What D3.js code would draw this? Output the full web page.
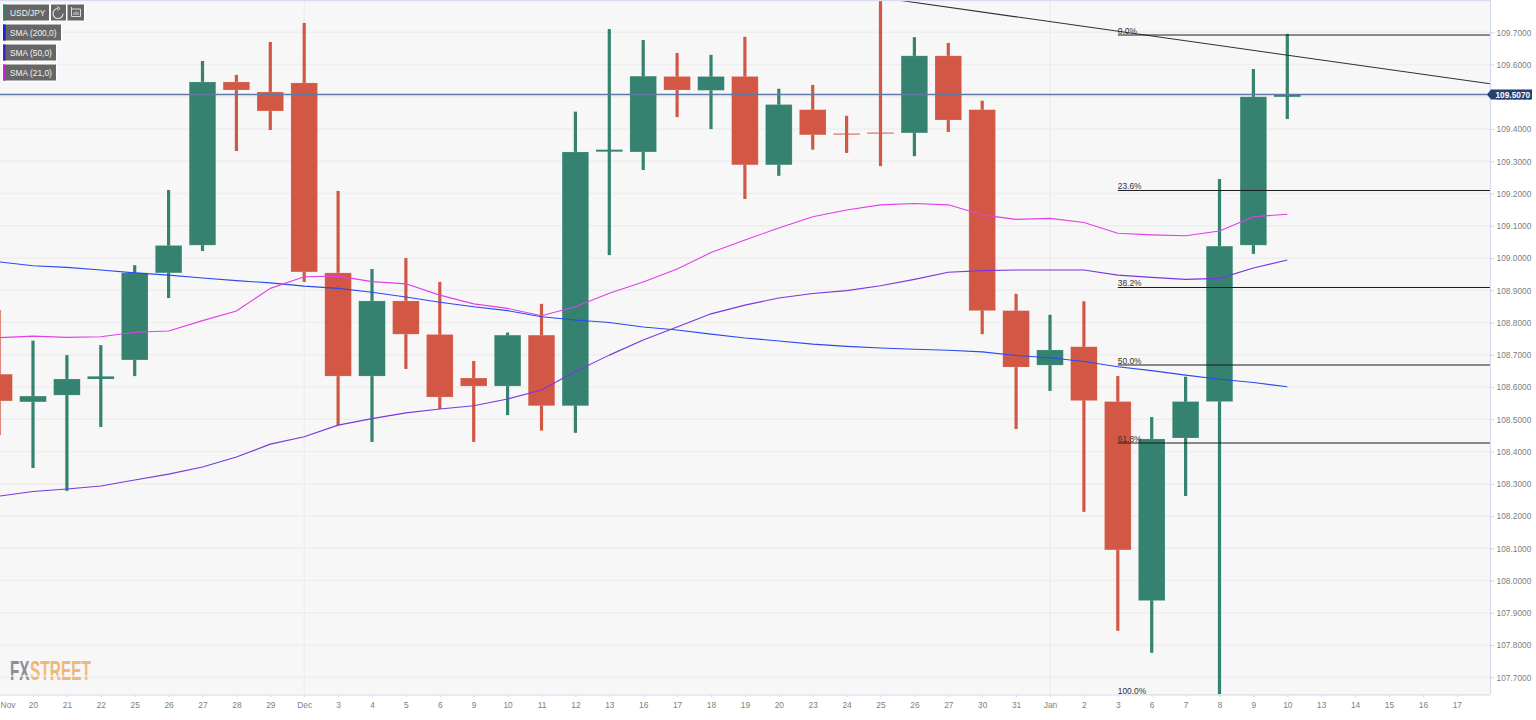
<!DOCTYPE html>
<html><head><meta charset="utf-8">
<script src="https://cdn.jsdelivr.net/npm/d3@7"></script>
<style>html,body{margin:0;padding:0;background:#fff;overflow:hidden}svg{display:block}text{font-family:"Liberation Sans",Arial,sans-serif}</style>
</head><body><svg id="c" width="1536" height="720"></svg>
<script>
const dates=["19","20","21","22","25","26","27","28","29","Dec","3","4","5","6","9","10","11","12","13","16","17","18","19","20","23","24","25","26","27","30","31","Jan","2","3","6","7","8","9","10"];
const open=[108.640,108.554,108.575,108.625,108.684,108.954,109.040,109.546,109.515,109.543,108.954,108.634,108.867,108.763,108.628,108.603,108.761,108.542,109.330,109.329,109.563,109.520,109.563,109.289,109.460,109.386,109.389,109.388,109.627,109.460,108.837,108.668,108.725,108.555,107.938,108.442,108.555,109.040,109.500];
const close=[108.557,108.572,108.625,108.633,108.954,109.039,109.546,109.521,109.456,108.957,108.634,108.867,108.764,108.569,108.603,108.761,108.542,109.329,109.336,109.564,109.521,109.563,109.289,109.476,109.382,109.383,109.386,109.627,109.428,108.837,108.662,108.715,108.558,108.095,108.439,108.555,109.037,109.500,109.507];
const high=[108.839,108.744,108.699,108.730,108.978,109.211,109.611,109.568,109.670,109.729,109.208,108.966,109.000,108.926,108.681,108.769,108.858,109.454,109.710,109.676,109.636,109.630,109.686,109.525,109.537,109.441,109.797,109.685,109.667,109.488,108.889,108.824,108.866,108.634,108.507,108.632,109.245,109.586,109.695];
const low=[108.451,108.349,108.278,108.476,108.634,108.876,109.022,109.332,109.397,108.926,108.482,108.430,108.656,108.532,108.430,108.513,108.465,108.458,109.009,109.273,109.437,109.400,109.183,109.255,109.336,109.326,109.285,109.316,109.391,108.764,108.470,108.588,108.213,107.844,107.776,108.262,107.648,109.013,109.431];
const sma200=[108.988,108.976,108.971,108.963,108.954,108.947,108.938,108.930,108.923,108.913,108.906,108.894,108.879,108.863,108.849,108.837,108.818,108.808,108.800,108.786,108.777,108.764,108.752,108.743,108.733,108.726,108.721,108.717,108.714,108.709,108.698,108.691,108.679,108.663,108.651,108.637,108.624,108.614,108.601];
const sma50=[108.262,108.276,108.284,108.293,108.312,108.330,108.352,108.383,108.423,108.446,108.482,108.502,108.520,108.532,108.542,108.563,108.591,108.648,108.699,108.746,108.786,108.827,108.854,108.876,108.890,108.899,108.914,108.934,108.956,108.961,108.963,108.963,108.963,108.947,108.940,108.934,108.937,108.969,108.994];
const sma21=[108.753,108.758,108.754,108.756,108.770,108.774,108.806,108.836,108.906,108.942,108.944,108.927,108.920,108.885,108.858,108.844,108.821,108.849,108.891,108.926,108.966,109.017,109.056,109.093,109.128,109.149,109.165,109.169,109.165,109.134,109.120,109.123,109.110,109.077,109.072,109.069,109.084,109.128,109.136];
const futureLabels=["13","14","15","16","17"];
const priceTicks=[109.7,109.6,109.5,109.4,109.3,109.2,109.1,109.0,108.9,108.8,108.7,108.6,108.5,108.4,108.3,108.2,108.1,108.0,107.9,107.8,107.7];
const fibLabels=["0.0%","23.6%","38.2%","50.0%","61.8%","100.0%"];
const fibPrices=[109.6916,109.2095,108.9087,108.6684,108.4265,107.6440];
const fibStartIndex=32;
const trendIndex=[25.5,43];
const trendPrice=[109.800,109.540];
const lastPrice=109.5070;
const legendLabels=["SMA (200,0)","SMA (50,0)","SMA (21,0)"];
const symbol="USD/JPY";
const smaColors=["#2b49f0","#7a37e0","#e23fe8"];

const W=1490,B=694.5;
const svg=d3.select("#c");
const x=d3.scaleLinear().domain([-1,43]).range([-0.9,1490.7]);
const y=d3.scaleLinear().domain([109.7,107.7]).range([32.3,677.3]);
const UP="#34826f",DN="#d25845",TICK="#808080",FS=8.4;

svg.append("rect").attr("width",1536).attr("height",720).attr("fill","#fff");
svg.append("rect").attr("width",W).attr("height",B).attr("fill","#f7f7f7");
svg.append("defs").append("clipPath").attr("id","p").append("rect").attr("width",W).attr("height",B);

const plot=svg.append("g").attr("clip-path","url(#p)");
plot.append("g").selectAll("line").data(priceTicks).join("line")
 .attr("x1",0).attr("x2",W).attr("y1",d=>y(d)).attr("y2",d=>y(d)).attr("stroke","#eeeeee").attr("stroke-width",1.4);
const allLabels=dates.concat(futureLabels);
const tickIdx=allLabels.map((d,i)=>i-1);
plot.append("g").selectAll("line").data(tickIdx.filter(i=>allLabels[i+1]==="Dec"||allLabels[i+1]==="Jan")).join("line")
 .attr("x1",d=>x(d)).attr("x2",d=>x(d)).attr("y1",0).attr("y2",B).attr("stroke","#eaeaea").attr("stroke-width",1);

const cs=dates.map((d,i)=>({i:i-1,o:open[i],c:close[i],h:high[i],l:low[i]}));
const col=d=>d.c>=d.o?UP:DN;
const g=plot.append("g");
g.selectAll(".w").data(cs).join("rect").attr("class","w")
 .attr("x",d=>x(d.i)-1.6).attr("width",3.2).attr("y",d=>y(d.h)).attr("height",d=>y(d.l)-y(d.h)).attr("fill",col);
g.selectAll(".b").data(cs).join("rect").attr("class","b")
 .attr("x",d=>x(d.i)-13.3).attr("width",26.6)
 .attr("y",d=>y(Math.max(d.o,d.c)))
 .attr("height",d=>Math.max(1,Math.abs(y(d.o)-y(d.c))))
 .attr("fill",col).attr("stroke",d=>Math.abs(y(d.o)-y(d.c))>3?"rgba(255,255,255,.25)":"none").attr("stroke-width",.6);

const ln=d3.line().x((d,i)=>x(i-1)).y(d=>y(d));
[sma200,sma50,sma21].forEach((s,k)=>plot.append("path").attr("d",ln(s)).attr("fill","none").attr("stroke",smaColors[k]).attr("stroke-width",1.1).attr("stroke-linejoin","round"));

plot.append("line").attr("x1",x(trendIndex[0])).attr("x2",x(trendIndex[1])).attr("y1",y(trendPrice[0])).attr("y2",y(trendPrice[1])).attr("stroke","#2f2f2f").attr("stroke-width",1.1);

const fx=x(fibStartIndex);
plot.append("g").selectAll("line").data(fibPrices).join("line")
 .attr("x1",fx).attr("x2",W).attr("y1",d=>y(d)).attr("y2",d=>y(d)).attr("stroke","#1d1d1d").attr("stroke-width",1);
svg.append("g").selectAll("text").data(fibLabels).join("text")
 .attr("x",fx).attr("y",(d,i)=>Math.min(y(fibPrices[i])-1,694)).text(d=>d)
 .attr("font-size",FS).attr("fill","#333");

plot.append("line").attr("x1",0).attr("x2",W).attr("y1",y(lastPrice)).attr("y2",y(lastPrice)).attr("stroke","#5f7aa3").attr("stroke-width",1.4);

function logoPart(txt,left,width,fill){
 const t=svg.append("text").attr("style","font-family:'Liberation Sans Narrow','Liberation Sans',sans-serif")
  .attr("font-weight","bold").attr("font-size",27).attr("fill",fill).text(txt);
 const n=t.node().getComputedTextLength();
 t.attr("transform",`translate(${left},680) scale(${width/n},1)`);
}
logoPart("FX",10,19.5,"#8b8e98");
logoPart("STREET",30,61,"#f0b878");
svg.append("line").attr("x1",9).attr("x2",92).attr("y1",676).attr("y2",676).attr("stroke","#f7f7f7").attr("stroke-width",1);

const ax=d3.axisRight(y).tickValues(priceTicks).tickFormat(d3.format(".4f")).tickSize(4).tickPadding(2);
const ga=svg.append("g").attr("transform",`translate(${W+.5},0)`).call(ax);
const bx=d3.axisBottom(x).tickValues(tickIdx).tickFormat(d=>allLabels[d+1]).tickSize(2).tickPadding(5);
const gb=svg.append("g").attr("transform",`translate(0,${B+.5})`).call(bx);
[ga,gb].forEach(a=>{a.selectAll("text").attr("font-size",FS).attr("font-family","'Liberation Sans',sans-serif").attr("fill",TICK);
 a.selectAll("line").attr("stroke","#cfd5e4");a.select(".domain").attr("stroke","#d6dcec").attr("stroke-width",1.2);});
ga.select(".domain").attr("d",`M0,0V${B}`);
gb.select(".domain").attr("d",`M0,0H${W}`);
gb.selectAll(".tick").filter(d=>d===-1).select("line").remove();
gb.selectAll(".tick").filter(d=>d===-1).select("text").text("Nov").attr("text-anchor","start").attr("x",1);
svg.append("rect").attr("width",W).attr("height",1.2).attr("fill","#d8deee");

const ty=y(lastPrice);
svg.append("path").attr("d",`M1487,${ty}L1491,${ty-5}H1532V${ty+5}H1491Z`).attr("fill","#24416f");
svg.append("text").attr("x",1495.5).attr("y",ty+3).attr("font-size",8.3).attr("font-weight","bold").attr("fill","#fff").text(d3.format(".4f")(lastPrice));

const lg=svg.append("g");
function box(xp,yp,w,h,bar,label){
 lg.append("rect").attr("x",xp-.5).attr("y",yp-.5).attr("width",w+1).attr("height",h+1).attr("fill","#666").attr("stroke","#fff");
 if(bar)lg.append("rect").attr("x",xp).attr("y",yp).attr("width",2.6).attr("height",h).attr("fill",bar);
 if(label)lg.append("text").attr("x",xp+7).attr("y",yp+h/2+3).attr("font-size",FS).attr("fill","#f2f2f2").text(label);
}
box(3,4.5,46,16,UP,symbol);
box(51,4.5,15,16);
box(67.5,4.5,16.5,16);
lg.append("path").attr("d","M58,8.5 A5,5 0 1 0 63,13.5").attr("fill","none").attr("stroke","#e8e8e8").attr("stroke-width",1.1);
lg.append("path").attr("d","M57,6.5L60,8.5L57.5,10.5").attr("fill","none").attr("stroke","#e8e8e8").attr("stroke-width",.9);
lg.append("path").attr("d","M71.5,9H80.5V16.5H71.5V7M74,15V12.5M76,15V11.5M78,15V12").attr("fill","none").attr("stroke","#e8e8e8").attr("stroke-width",.9);
box(3,24.5,58,16,"#1c1ce6",legendLabels[0]);
box(3,44.5,53,16,"#4a1fd0",legendLabels[1]);
box(3,64.5,53,16,"#cc1fd6",legendLabels[2]);
</script></body></html>
